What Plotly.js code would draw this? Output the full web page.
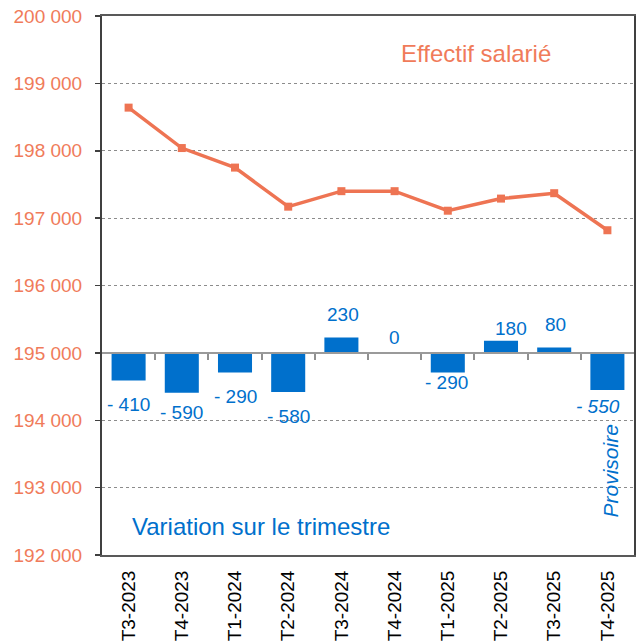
<!DOCTYPE html>
<html>
<head>
<meta charset="utf-8">
<script src="https://cdn.plot.ly/plotly-3.0.1.min.js"></script>
<style>html,body{margin:0;padding:0;background:#fff;}#chart{width:642px;height:643px;}</style>
</head>
<body>
<div id="chart"></div>
<script>
// Data
var quarters = ["T3-2023","T4-2023","T1-2024","T2-2024","T3-2024","T4-2024","T1-2025","T2-2025","T3-2025","T4-2025"];
var effectif = [198640, 198040, 197750, 197170, 197400, 197400, 197110, 197290, 197370, 196820];
var variation = [-410, -590, -290, -580, 230, 0, -290, 180, 80, -550];
var variationLabels = ["- 410","- 590","- 290","- 580","230","0","- 290","180","80","- 550"];
var baseLevel = 195000;
var yTicks = [192000,193000,194000,195000,196000,197000,198000,199000,200000];

// Styling
var FONT = "Liberation Sans, Arial, sans-serif";
var ORANGE = "#EE7453";
var ORANGE_TXT = "#F07B5A";
var BLUE = "#0070CC";
var labelXShift = [0, 0, 0, 0, 2, 0, -1, 10, 1, -9];
var labelYShift = [-24, -19.5, -24.5, -25, 22.5, 15, -10.5, 12, 22.5, -17];
var lastIdx = quarters.length - 1;

var bars = {
  type: "bar",
  x: quarters,
  y: variation,
  base: baseLevel,
  marker: {color: BLUE, line: {width: 0}},
  width: 0.64,
  hoverinfo: "skip",
  showlegend: false
};
var line = {
  type: "scatter",
  mode: "lines+markers",
  x: quarters,
  y: effectif,
  line: {color: ORANGE, width: 3.5},
  marker: {symbol: "square", size: 8, color: ORANGE},
  hoverinfo: "skip",
  showlegend: false,
  cliponaxis: false
};
var boundaryTicks = [];
for (var i = 0; i < quarters.length - 1; i++) boundaryTicks.push(i + 0.5);
var helper = {
  type: "scatter", x: [0], y: [null], xaxis: "x2", yaxis: "y",
  mode: "markers", hoverinfo: "skip", showlegend: false
};

var annotations = variation.map(function(v, i) {
  return {
    x: quarters[i], y: baseLevel + v, xref: "x", yref: "y",
    text: variationLabels[i], showarrow: false,
    xanchor: "center", yanchor: "middle",
    xshift: labelXShift[i], yshift: labelYShift[i],
    font: {family: FONT, size: 19, color: BLUE}
  };
});
annotations[lastIdx].text = "<i>" + variationLabels[lastIdx] + "</i>";
annotations.push({
  x: 0.703, y: 0.931, xref: "paper", yref: "paper", showarrow: false,
  text: "Effectif salarié", xanchor: "center", yanchor: "middle",
  font: {family: FONT, size: 24, color: ORANGE_TXT}
});
annotations.push({
  x: 0.2998, y: 0.052, xref: "paper", yref: "paper", showarrow: false,
  text: "Variation sur le trimestre", xanchor: "center", yanchor: "middle",
  font: {family: FONT, size: 24, color: BLUE}
});
annotations.push({
  x: 0.955, y: 0.155, xref: "paper", yref: "paper", showarrow: false,
  text: "<i>Provisoire</i>", textangle: -90, xanchor: "center", yanchor: "middle",
  font: {family: FONT, size: 21, color: BLUE}
});

var layout = {
  width: 642, height: 643,
  margin: {l: 102, r: 8, t: 16, b: 88},
  paper_bgcolor: "#fff", plot_bgcolor: "#fff",
  separators: ", ",
  font: {family: FONT},
  showlegend: false,
  xaxis: {
    type: "category",
    range: [-0.5, quarters.length - 0.5],
    autorange: false,
    showgrid: false, zeroline: false,
    showline: true, linecolor: "#595959", linewidth: 2, mirror: true,
    ticks: "", tickangle: -90,
    ticklabelstandoff: 6,
    tickfont: {family: FONT, size: 19, color: "#000"}
  },
  xaxis2: {
    type: "linear",
    overlaying: "x", anchor: "free", position: 0.375, side: "bottom",
    range: [-0.5, quarters.length - 0.5],
    autorange: false,
    showgrid: false, zeroline: false,
    showline: true, linecolor: "#9A9A9A", linewidth: 2,
    ticks: "outside", ticklen: 6, tickwidth: 2, tickcolor: "#909090",
    tickmode: "array", tickvals: boundaryTicks,
    showticklabels: false,
    layer: "above traces"
  },
  yaxis: {
    range: [192000, 200000],
    autorange: false,
    tickmode: "array", tickvals: yTicks,
    tickformat: ",d",
    showgrid: true, gridcolor: "#8C8C8C", gridwidth: 1, griddash: "dot",
    zeroline: false,
    showline: true, linecolor: "#404040", linewidth: 2, mirror: true,
    ticks: "outside", ticklen: 5, tickwidth: 1.5, tickcolor: "#404040",
    ticklabelstandoff: 9,
    tickfont: {family: FONT, size: 19, color: ORANGE_TXT}
  },
  annotations: annotations
};

Plotly.newPlot("chart", [bars, line, helper], layout, {staticPlot: true, displayModeBar: false});
</script>
</body>
</html>
